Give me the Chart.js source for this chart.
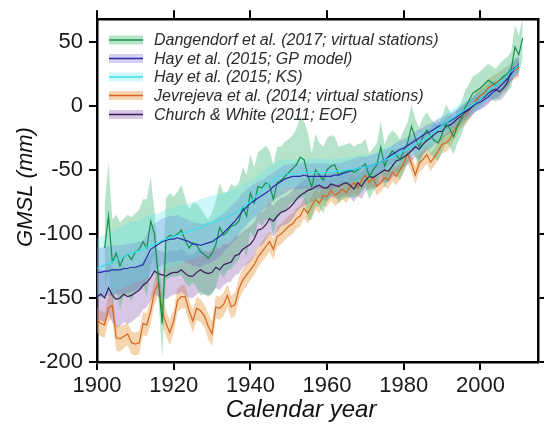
<!DOCTYPE html>
<html>
<head>
<meta charset="utf-8">
<script src="https://cdn.jsdelivr.net/npm/chart.js@4"></script>
<style>
  html, body { margin: 0; padding: 0; background: #ffffff; }
  #wrap { width: 544px; height: 432px; }
</style>
</head>
<body>
<div id="wrap"><canvas id="c" width="544" height="432"></canvas></div>
<script>
// Global mean sea level reconstructions (mm), annual values with 1-sigma half-widths.

const dangStart = 1902;
const dangVals = [
  -111,-86,-122,-115,-125,-118,-116,-120,-114,-112,
  -106,-111,-90,-100,-135,-170,-104,-101,-102,-100,
  -97,-105,-111,-107,-109,-114,-116,-119,-115,-108,
  -95,-101,-98,-94,-93,-90,-79,-86,-68,-76,
  -63,-64,-60,-62,-73,-60,-58,-55,-52,-49,
  -46,-40,-42,-55,-63,-50,-54,-58,-50,-47,
  -46,-54,-52,-51,-50,-52,-50,-48,-45,-55,
  -50,-46,-32,-47,-40,-35,-38,-42,-35,-29,
  -16,-25,-32,-24,-19,-24,-27,-29,-22,-14,
  -18,-24,-16,-10,-1,4,10,12,14,17,
  20,18,16,20,23,25,28,46,40,53
];
const dangErr = [
  34,42,33,30,34,30,31,33,30,31,
  33,38,34,18,14,26,32,33,31,33,
  35,33,30,31,33,34,31,30,32,34,
  35,33,31,33,30,30,31,32,30,28,
  27,30,29,27,27,28,26,27,26,26,
  28,32,30,34,26,28,25,26,25,24,
  22,22,21,21,21,20,20,19,19,18,
  17,17,20,17,17,16,16,16,16,16,
  17,15,15,15,14,14,14,14,14,15,
  14,14,13,13,13,13,13,13,13,13,
  13,13,13,13,13,13,14,17,15,16
];

const hayStart = 1900;
const hayGPVals = [
  -130,-130,-129,-129,-128,-128,-128,-127,-127,-126,
  -126,-125,-124,-118,-112,-110,-108,-106,-105,-104,
  -104,-103,-104,-105,-106,-108,-108,-109,-108,-107,
  -106,-104,-102,-99,-96,-93,-90,-86,-82,-79,
  -76,-74,-72,-70,-68,-66,-63,-61,-59,-57,
  -56,-55,-55,-55,-54,-55,-55,-55,-55,-55,
  -55,-55,-54,-54,-53,-52,-51,-50,-49,-48,
  -48,-47,-46,-45,-44,-42,-40,-38,-36,-34,
  -33,-31,-29,-27,-25,-23,-21,-20,-18,-16,
  -15,-13,-12,-10,-8,-6,-4,-2,0,2,
  3,5,7,10,12,15,18,21,25,29,
  33
];
const hayGPErr = [
  19,19,19,19,19,19,19,19,19,19,
  19,19,19,18,18,18,18,18,18,18,
  18,18,17,17,17,17,17,17,16,16,
  16,16,16,15,15,15,15,14,14,14,
  13,13,13,12,12,12,11,11,11,11,
  10,10,10,10,10,10,10,10,10,10,
  10,10,9,9,9,9,9,9,9,8,
  8,8,8,8,8,8,7,7,7,7,
  7,7,7,7,7,6,6,6,6,6,
  6,6,6,6,6,6,6,6,6,6,
  6,6,6,6,6,6,6,6,6,6,
  6
];
const hayKSVals = [
  -127,-126,-124,-123,-122,-120,-119,-118,-116,-115,
  -114,-113,-112,-110,-109,-108,-107,-105,-104,-103,
  -102,-101,-100,-99,-98,-97,-96,-95,-93,-92,
  -91,-90,-89,-88,-87,-85,-84,-82,-79,-77,
  -75,-72,-69,-66,-63,-60,-58,-56,-54,-53,
  -53,-53,-53,-52,-52,-52,-52,-52,-52,-52,
  -52,-52,-51,-51,-51,-50,-50,-50,-49,-48,
  -48,-47,-46,-45,-44,-42,-41,-40,-38,-37,
  -35,-34,-32,-30,-28,-27,-25,-23,-21,-18,
  -15,-13,-11,-9,-7,-5,-3,-1,1,3,
  5,8,11,14,16,19,21,24,27,29,
  32
];
const hayKSErr = [
  24,24,24,24,24,24,24,24,24,24,
  24,24,24,24,24,24,23,23,23,23,
  23,23,23,22,22,22,22,22,21,21,
  21,21,20,20,20,19,19,18,18,17,
  16,15,15,14,14,13,13,12,12,11,
  11,11,11,11,11,11,11,11,11,11,
  10,10,10,10,10,10,10,10,10,10,
  9,9,9,9,9,9,9,9,9,9,
  8,8,8,8,8,8,8,8,8,8,
  7,7,7,7,7,7,7,7,7,7,
  6,6,6,6,6,6,6,6,6,6,
  6
];

const jevStart = 1900;
const jevVals = [
  -167,-170,-171,-158,-156,-181,-182,-180,-178,-185,
  -186,-185,-170,-171,-160,-145,-138,-160,-170,-177,
  -168,-152,-149,-149,-160,-168,-158,-160,-164,-172,
  -178,-157,-158,-155,-148,-157,-155,-143,-136,-132,
  -128,-124,-118,-114,-110,-106,-112,-102,-100,-97,
  -94,-92,-88,-86,-80,-84,-78,-73,-76,-70,
  -71,-66,-70,-68,-65,-68,-63,-60,-64,-58,
  -54,-60,-56,-63,-60,-56,-58,-52,-55,-50,
  -45,-37,-45,-54,-45,-42,-38,-44,-40,-35,
  -30,-29,-26,-20,-15,-10,-8,-4,0,5,
  8,10,14,16,18,20,22,24,26,28,
  30
];
const jevErr = [
  10,10,10,10,10,10,10,9,9,9,
  9,9,9,9,10,10,10,10,10,10,
  9,9,9,9,9,9,9,9,9,10,
  10,9,9,9,9,9,9,9,9,9,
  8,8,8,8,8,8,8,8,8,8,
  8,8,8,8,8,8,8,8,8,8,
  8,8,8,8,8,8,8,8,8,8,
  7,7,7,7,7,7,7,7,7,7,
  7,7,7,7,7,7,7,7,7,7,
  7,7,7,7,7,7,7,7,7,7,
  7,7,7,7,7,7,7,7,7,7,
  7
];

const cwStart = 1900;
const cwVals = [
  -149,-147,-150,-142,-148,-151,-150,-147,-149,-148,
  -146,-144,-140,-138,-134,-129,-131,-132,-133,-131,
  -130,-130,-128,-131,-133,-133,-130,-128,-130,-131,
  -130,-126,-128,-124,-123,-122,-117,-116,-112,-110,
  -108,-104,-97,-96,-93,-88,-90,-86,-83,-82,
  -80,-77,-73,-70,-68,-66,-65,-63,-62,-64,
  -64,-61,-62,-63,-61,-60,-62,-65,-60,-63,
  -58,-55,-56,-54,-52,-50,-51,-47,-43,-42,
  -40,-38,-35,-32,-34,-30,-27,-25,-22,-20,
  -20,-16,-15,-13,-10,-8,-5,-3,0,3,
  5,7,10,12,13,11,14,18,27,30,
  31
];
const cwErr = [
  20,20,20,21,21,22,22,22,21,21,
  20,20,19,19,18,18,18,18,18,18,
  17,17,17,17,17,17,17,17,17,17,
  16,16,16,16,15,15,15,15,14,14,
  14,13,13,13,12,12,12,12,11,11,
  11,11,10,10,10,10,10,10,10,10,
  10,10,10,10,10,10,10,10,10,10,
  9,9,9,9,9,9,9,9,9,9,
  8,8,8,8,8,8,8,8,8,8,
  7,7,7,7,7,7,7,7,7,7,
  7,7,7,7,7,7,7,7,7,7,
  7
];

const yearTicks = [1900, 1920, 1940, 1960, 1980, 2000];
const gmslTicks = [-200, -150, -100, -50, 0, 50];

const seriesList = [
  { label: 'Dangendorf et al. (2017; virtual stations)', start: dangStart, vals: dangVals, err: dangErr,
    line: '#13914a', band: 'rgba(60,185,115,0.38)', bandOrder: 103, lineOrder: 3 },
  { label: 'Hay et al. (2015; GP model)', start: hayStart, vals: hayGPVals, err: hayGPErr,
    line: '#2a2aaa', band: 'rgba(110,100,205,0.30)', bandOrder: 102, lineOrder: 2 },
  { label: 'Hay et al. (2015; KS)', start: hayStart, vals: hayKSVals, err: hayKSErr,
    line: '#36e4ee', band: 'rgba(90,230,240,0.30)', bandOrder: 101, lineOrder: 1 },
  { label: 'Jevrejeva et al. (2014; virtual stations)', start: jevStart, vals: jevVals, err: jevErr,
    line: '#d4661c', band: 'rgba(232,160,80,0.45)', bandOrder: 105, lineOrder: 5 },
  { label: 'Church & White (2011; EOF)', start: cwStart, vals: cwVals, err: cwErr,
    line: '#3a1c5a', band: 'rgba(150,105,185,0.38)', bandOrder: 104, lineOrder: 4 }
];

function toPoints(start, vals, err, sign) {
  return vals.map((v, i) => ({ x: start + i, y: err ? v + sign * err[i] : v }));
}

const datasets = [];
seriesList.forEach(s => {
  const upperIdx = datasets.length;
  datasets.push({
    label: s.label + ' upper', data: toPoints(s.start, s.vals, s.err, 1),
    borderWidth: 0, pointRadius: 0, backgroundColor: s.band,
    fill: { target: upperIdx + 1 }, order: s.bandOrder
  });
  datasets.push({
    label: s.label + ' lower', data: toPoints(s.start, s.vals, s.err, -1),
    borderWidth: 0, pointRadius: 0, fill: false, order: s.bandOrder
  });
});
seriesList.forEach(s => {
  datasets.push({
    label: s.label, data: toPoints(s.start, s.vals, null, 0),
    borderColor: s.line, borderWidth: 1.2, pointRadius: 0, fill: false,
    tension: 0, order: s.lineOrder
  });
});

const FONT = '"Liberation Sans", Arial, Helvetica, sans-serif';

const decorations = {
  id: 'decorations',
  afterDraw(chart) {
    const ctx = chart.ctx;
    ctx.save();
    // legend
    const rowY = [40, 58.5, 77, 95.5, 114.5];
    seriesList.forEach((s, i) => {
      const cy = rowY[i];
      ctx.fillStyle = s.band;
      ctx.fillRect(109, cy - 4.5, 34, 9);
      ctx.strokeStyle = s.line;
      ctx.lineWidth = 1.5;
      ctx.beginPath();
      ctx.moveTo(109, cy);
      ctx.lineTo(143, cy);
      ctx.stroke();
      ctx.fillStyle = '#2a2a2a';
      ctx.font = 'italic 16px ' + FONT;
      ctx.textAlign = 'left';
      ctx.textBaseline = 'middle';
      ctx.fillText(s.label, 154, cy + 1);
    });
    // axis titles
    ctx.fillStyle = '#111';
    ctx.font = 'italic 24px ' + FONT;
    ctx.textAlign = 'center';
    ctx.textBaseline = 'middle';
    ctx.fillText('Calendar year', 301, 410);
    ctx.translate(26, 187);
    ctx.rotate(-Math.PI / 2);
    ctx.font = 'italic 22px ' + FONT;
    ctx.fillText('GMSL (mm)', 0, 0);
    ctx.restore();
  }
};

const tickFont = { family: FONT, size: 22 };
const axisGrid = (len) => ({ drawOnChartArea: false, drawTicks: true, tickLength: len, color: '#000', lineWidth: 2 });
const axisBorder = { display: true, color: '#000', width: 2.5 };

new Chart(document.getElementById('c'), {
  type: 'line',
  data: { datasets },
  options: {
    responsive: false,
    animation: false,
    devicePixelRatio: 1,
    layout: { padding: 0 },
    plugins: { legend: { display: false }, tooltip: { enabled: false }, filler: { propagate: false } },
    scales: {
      x: {
        type: 'linear', position: 'bottom', min: 1900, max: 2015,
        afterFit(s) { s.height = 70; },
        afterBuildTicks(s) { s.ticks = yearTicks.map(v => ({ value: v })); },
        ticks: { autoSkip: false, maxRotation: 0, font: tickFont, color: '#1a1a1a', padding: 3, callback: v => String(v) },
        grid: axisGrid(8), border: axisBorder
      },
      xTop: {
        type: 'linear', position: 'top', min: 1900, max: 2015,
        afterFit(s) { s.height = 19; },
        afterBuildTicks(s) { s.ticks = yearTicks.map(v => ({ value: v })); },
        ticks: { display: false },
        grid: axisGrid(9), border: axisBorder
      },
      y: {
        type: 'linear', position: 'left', min: -200, max: 67.7,
        afterFit(s) { s.width = 97; },
        afterBuildTicks(s) { s.ticks = gmslTicks.map(v => ({ value: v })); },
        ticks: { font: tickFont, color: '#1a1a1a', padding: 6, callback: v => String(v) },
        grid: axisGrid(8), border: axisBorder
      },
      yRight: {
        type: 'linear', position: 'right', min: -200, max: 67.7,
        afterFit(s) { s.width = 6; },
        afterBuildTicks(s) { s.ticks = gmslTicks.map(v => ({ value: v })); },
        ticks: { display: false },
        grid: axisGrid(7), border: axisBorder
      }
    }
  },
  plugins: [decorations]
});
</script>
</body>
</html>
